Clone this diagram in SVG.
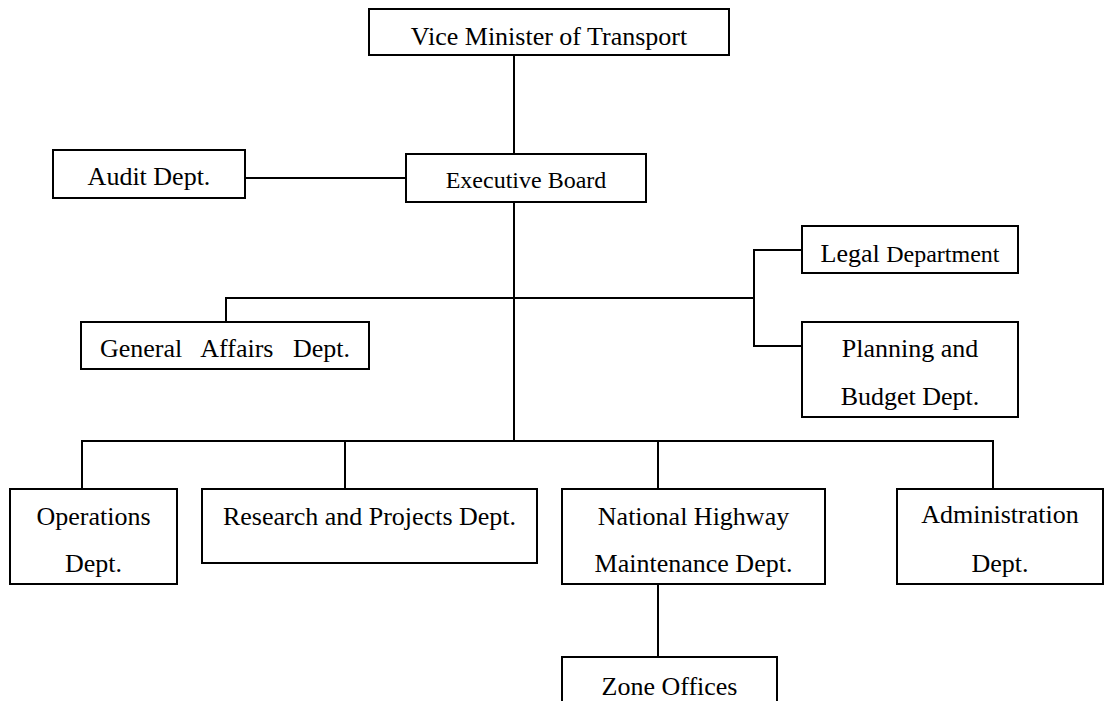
<svg xmlns="http://www.w3.org/2000/svg" width="1105" height="701" viewBox="0 0 1105 701">
<style>
.box{fill:#fff;stroke:#000;stroke-width:2}
.ln{fill:none;stroke:#000;stroke-width:2}
.t{font-family:"Liberation Serif","Times New Roman",serif;font-size:26px;fill:#000;text-anchor:middle}
.s{font-size:24px}
</style>
<rect width="1105" height="701" fill="#fff"/>
<g id="connectors">
<path class="ln" d="M514,55V154"/>
<path class="ln" d="M245,178H406"/>
<path class="ln" d="M514,202V441"/>
<path class="ln" d="M226,322V298H754"/>
<path class="ln" d="M802,250H754V346H802"/>
<path class="ln" d="M82,489V441H993V489"/>
<path class="ln" d="M345,441V489"/>
<path class="ln" d="M658,441V489"/>
<path class="ln" d="M658,584V657"/>
</g>
<g id="vice-minister"><rect class="box" x="369" y="9" width="360" height="46"/><text class="t" x="549" y="45">Vice Minister of Transport</text></g>
<g id="executive-board"><rect class="box" x="406" y="154" width="240" height="48"/><text class="t s" x="526" y="188">Executive Board</text></g>
<g id="audit"><rect class="box" x="53" y="150" width="192" height="48"/><text class="t" x="149" y="185">Audit Dept.</text></g>
<g id="legal"><rect class="box" x="802" y="226" width="216" height="47"/><text class="t" x="910" y="262">Legal <tspan class="s">Department</tspan></text></g>
<g id="general-affairs"><rect class="box" x="81" y="322" width="288" height="47"/><text class="t" x="225" y="357" word-spacing="13">General Affairs Dept.</text></g>
<g id="planning-budget"><rect class="box" x="802" y="322" width="216" height="95"/><text class="t" x="910" y="357">Planning and</text><text class="t" x="910" y="405">Budget Dept.</text></g>
<g id="operations"><rect class="box" x="10" y="489" width="167" height="95"/><text class="t" x="93.5" y="525">Operations</text><text class="t" x="93.5" y="572">Dept.</text></g>
<g id="research"><rect class="box" x="202" y="489" width="335" height="74"/><text class="t" x="369.5" y="525">Research and Projects Dept.</text></g>
<g id="national-highway"><rect class="box" x="562" y="489" width="263" height="95"/><text class="t" x="693.5" y="525">National Highway</text><text class="t" x="693.5" y="572">Maintenance Dept.</text></g>
<g id="administration"><rect class="box" x="897" y="489" width="206" height="95"/><text class="t" x="1000" y="523">Administration</text><text class="t" x="1000" y="572">Dept.</text></g>
<g id="zone-offices"><rect class="box" x="562" y="657" width="215" height="60"/><text class="t" x="669.5" y="695">Zone Offices</text></g>
</svg>
